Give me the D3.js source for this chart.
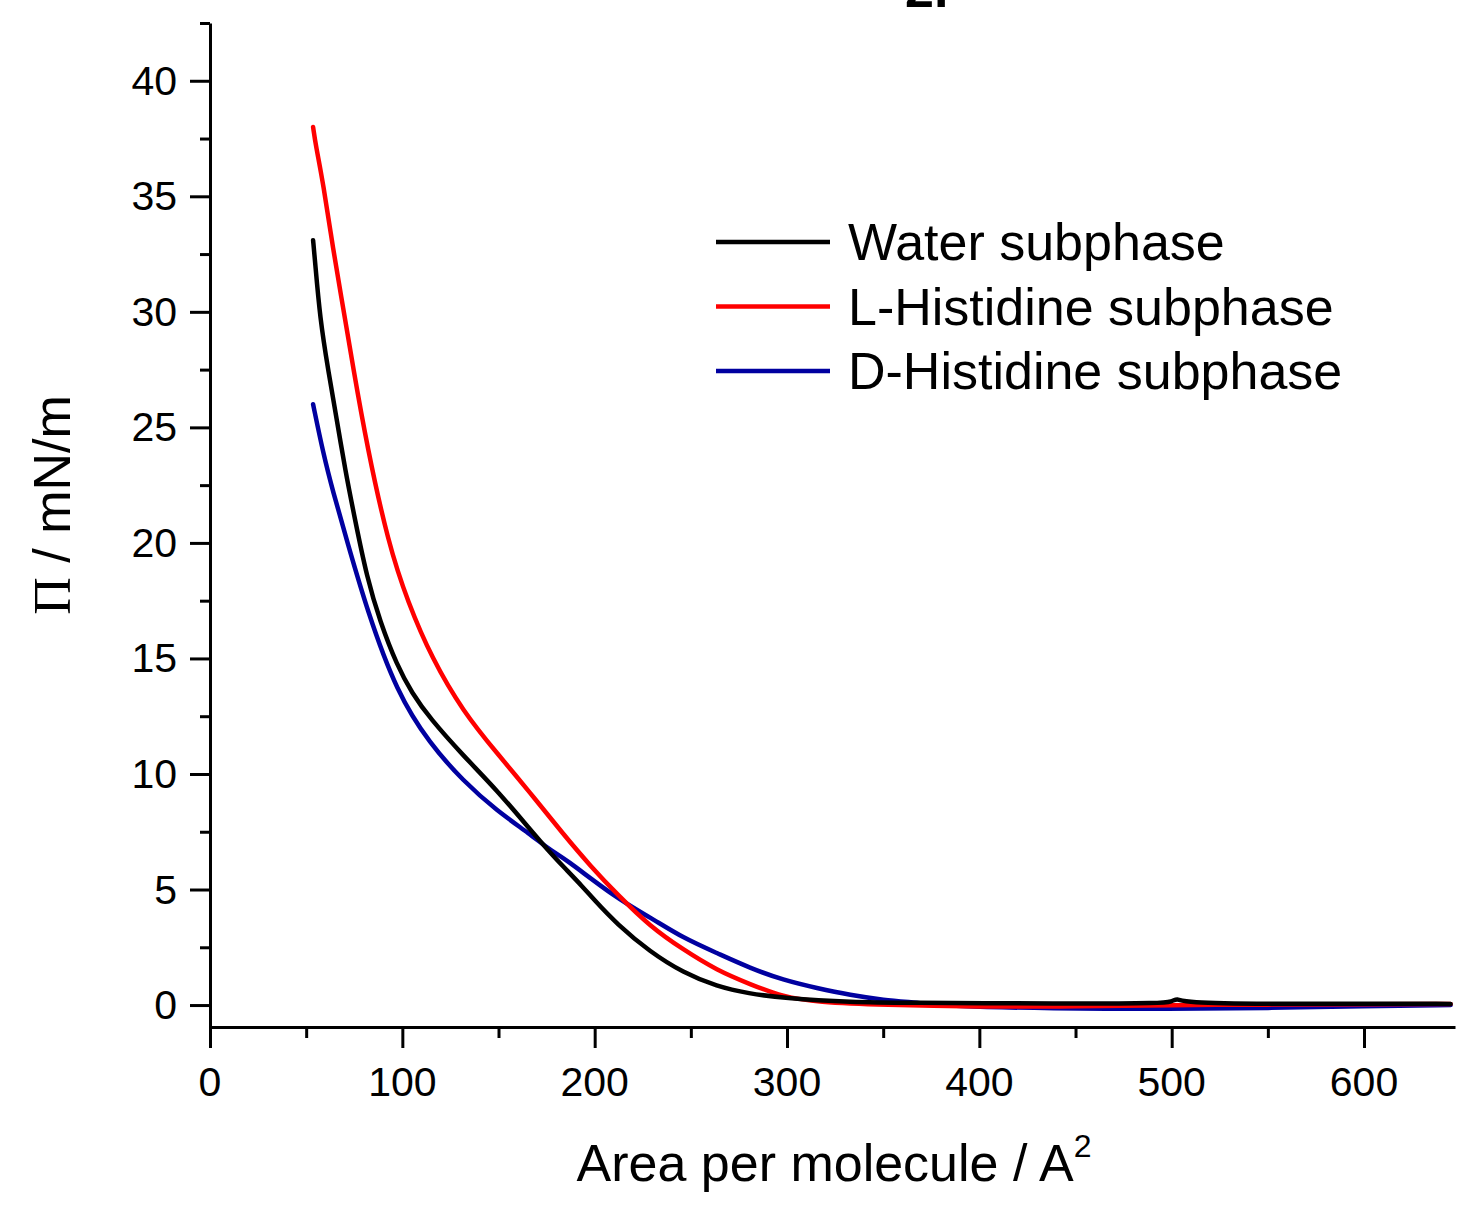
<!DOCTYPE html>
<html>
<head>
<meta charset="utf-8">
<script src="https://cdn.jsdelivr.net/npm/d3@7"></script>
<style>
  body { margin: 0; background: #fff; }
  text { font-family: Arial, "Liberation Sans", sans-serif; fill: #000; }
</style>
</head>
<body>
<svg width="1457" height="1206"></svg>
<script>
// surface pressure isotherms
const waterArea = [53.6, 54.5, 57.2, 61.4, 66, 70.2, 75.4, 81.6, 88.4, 97.2, 105, 114.4, 131.6, 149.2, 166.4, 176.8, 183.6, 194, 199.2, 211.6, 228.8, 246, 263.6, 280, 298, 333, 367, 400, 450, 495, 500, 503, 506, 550, 600, 645];
const waterPi   = [33.1, 32.3, 29.7, 27.5, 25.3, 23.2, 21.0, 18.5, 16.6, 14.7, 13.5, 12.4, 10.8, 9.3, 7.6, 6.6, 6.0, 5.1, 4.6, 3.5, 2.3, 1.4, 0.8, 0.5, 0.3, 0.12, 0.1, 0.08, 0.06, 0.08, 0.15, 0.3, 0.1, 0.05, 0.06, 0.05];

const lhisArea = [53.6, 55, 58.8, 64, 69.2, 74.4, 81.6, 92.6, 103, 115.4, 131.6, 149.2, 166.4, 183.6, 198, 211.6, 228.8, 246, 263.6, 280.8, 298, 315.6, 350, 400, 450, 500, 550, 600, 645];
const lhisPi   = [38.0, 37.2, 35.6, 32.7, 30.2, 27.6, 24.2, 20.0, 17.4, 15.0, 12.7, 10.9, 9.2, 7.4, 6.0, 4.8, 3.4, 2.4, 1.5, 0.9, 0.35, 0.13, 0.0, -0.08, -0.05, 0, 0.02, 0.03, 0.05];

const dhisArea = [53.6, 58.8, 64, 71.2, 81.6, 97.2, 114.4, 131.6, 149.2, 166.4, 176.8, 183.6, 211.6, 228.8, 246, 263.6, 280.8, 298, 315.6, 333, 350, 367.6, 385, 437, 500, 550, 600, 645];
const dhisPi   = [26.0, 23.9, 22.2, 20.1, 17.1, 13.5, 11.3, 9.7, 8.4, 7.4, 6.7, 6.4, 4.6, 3.8, 2.9, 2.25, 1.6, 1.08, 0.73, 0.43, 0.22, 0.1, -0.05, -0.15, -0.17, -0.13, -0.05, 0];

const seriesNames  = ['Water subphase', 'L-Histidine subphase', 'D-Histidine subphase'];
const seriesColors = ['#000000', '#ff0000', '#0000a0'];
const xTicks = [0, 100, 200, 300, 400, 500, 600];
const yTicks = [0, 5, 10, 15, 20, 25, 30, 35, 40];

const svg = d3.select('svg');

const x = d3.scaleLinear().domain([0, 647.3]).range([210, 1455]);
const y = d3.scaleLinear().domain([-0.95, 42.5]).range([1027, 23]);

const series = [
    waterArea.map((a, i) => [a, waterPi[i]]),
    lhisArea.map((a, i) => [a, lhisPi[i]]),
    dhisArea.map((a, i) => [a, dhisPi[i]])
];

// partly cut-off panel label at the top
svg.append('text').attr('x', 905).attr('y', 7)
    .style('font-size', '52px').style('font-weight', 'bold').text('2.');

// curves (blue first so black/red sit on top)
const line = d3.line().x(d => x(d[0])).y(d => y(d[1])).curve(d3.curveBasis);
[2, 1, 0].forEach(k => {
    svg.append('path').datum(series[k])
        .attr('d', line)
        .attr('fill', 'none')
        .attr('stroke', seriesColors[k])
        .attr('stroke-width', 4.5)
        .attr('stroke-linejoin', 'round')
        .attr('stroke-linecap', 'round');
});

// x axis
const xAxis = svg.append('g').attr('transform', 'translate(0,1027)');
xAxis.call(d3.axisBottom(x).tickValues(d3.range(0, 647, 50)).tickSize(0).tickFormat(''));
xAxis.select('.domain').attr('stroke-width', 3);
xAxis.selectAll('.tick line').remove();
xAxis.selectAll('.tick').append('line')
    .attr('y2', d => d % 100 === 0 ? 21 : 11)
    .attr('stroke', '#000').attr('stroke-width', 3);
svg.selectAll('.xlab').data(xTicks).join('text')
    .attr('class', 'xlab')
    .attr('x', d => x(d)).attr('y', 1096)
    .attr('text-anchor', 'middle')
    .style('font-size', '41px')
    .text(d => d);

// y axis
const yAxis = svg.append('g').attr('transform', 'translate(210,0)');
yAxis.call(d3.axisLeft(y).tickValues(d3.range(0, 42.6, 2.5)).tickSize(0).tickFormat(''));
yAxis.select('.domain').attr('stroke-width', 3);
yAxis.selectAll('.tick line').remove();
yAxis.selectAll('.tick').append('line')
    .attr('x2', d => d % 5 === 0 ? -20 : -10)
    .attr('stroke', '#000').attr('stroke-width', 3);
svg.selectAll('.ylab').data(yTicks).join('text')
    .attr('class', 'ylab')
    .attr('x', 177).attr('y', d => y(d) + 14)
    .attr('text-anchor', 'end')
    .style('font-size', '41px')
    .text(d => d);

// axis titles
const xt = svg.append('text').attr('x', 834).attr('y', 1181)
    .attr('text-anchor', 'middle').style('font-size', '52px');
xt.append('tspan').text('Area per molecule / A');
xt.append('tspan').attr('dy', -24).style('font-size', '32px').text('2');

const yt = svg.append('text')
    .attr('transform', 'translate(70,505) rotate(-90)')
    .attr('text-anchor', 'middle').style('font-size', '52px');
yt.append('tspan').style('font-family', '"Liberation Serif", "Times New Roman", serif').text('\u03A0');
yt.append('tspan').text(' / mN/m');

// legend
const legend = svg.append('g');
seriesNames.forEach((name, i) => {
    const ly = 242 + i * 64.5;
    legend.append('line')
        .attr('x1', 716).attr('x2', 830).attr('y1', ly).attr('y2', ly)
        .attr('stroke', seriesColors[i]).attr('stroke-width', 4.5);
    legend.append('text')
        .attr('x', 848).attr('y', ly + 18)
        .style('font-size', '52px')
        .text(name);
});
</script>
</body>
</html>
